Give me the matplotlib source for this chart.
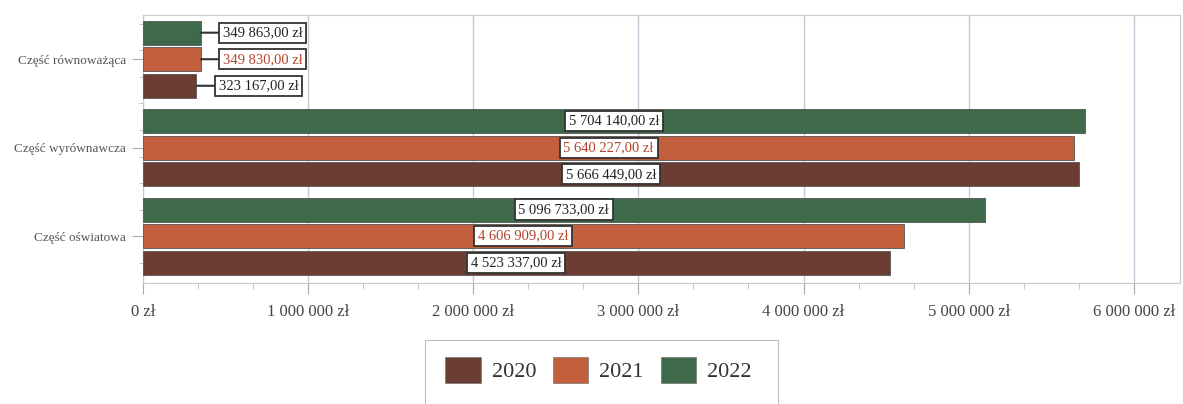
import matplotlib
matplotlib.use("Agg")
import matplotlib.pyplot as plt
from matplotlib.ticker import MultipleLocator, FuncFormatter
from matplotlib.patches import Patch, Rectangle
import numpy as np

categories = ["Część oświatowa", "Część wyrównawcza", "Część równoważąca"]
years = ["2020", "2021", "2022"]
values_2020 = [4523337.00, 5666449.00, 323167.00]
values_2021 = [4606909.00, 5640227.00, 349830.00]
values_2022 = [5096733.00, 5704140.00, 349863.00]
series = [values_2020, values_2021, values_2022]

colors = ["#6b3d33", "#c2603e", "#3e6a4a"]
label_colors = ["#222222", "#b3442a", "#222222"]

plt.rcParams['font.family'] = ['Liberation Serif', 'DejaVu Serif']

W, H = 1183, 404
fig = plt.figure(figsize=(W / 100, H / 100), dpi=100)
ax = fig.add_axes([143 / W, 1 - 283 / H, (1180 - 143) / W, (283 - 15) / H])

def fmt_pl(v, decimals=True):
    s = f"{int(round(v)):,}".replace(",", " ")
    return s + (",00 zł" if decimals else " zł")

pitch = 0.30
height = 0.27
y = np.arange(len(categories))
offsets = [-pitch, 0, pitch]
xmax = 6.28e6
for i, (vals, col) in enumerate(zip(series, colors)):
    bars = ax.barh(y + offsets[i], vals, height=height, color=col,
                   edgecolor="#555555", linewidth=0.6, zorder=3)
    for b, v in zip(bars, vals):
        yc = b.get_y() + b.get_height() / 2
        bbox = dict(boxstyle="square,pad=0.25", fc="white", ec="#333333", lw=1.3)
        if v < 1e6:
            ax.annotate(fmt_pl(v), xy=(v, yc), xytext=(v + 0.135e6, yc),
                        ha="left", va="center", fontsize=10.5, color=label_colors[i],
                        bbox=bbox, zorder=5,
                        arrowprops=dict(arrowstyle="-", color="#333333", lw=1.5,
                                        shrinkA=0, shrinkB=0))
        else:
            ax.text(v / 2, yc, fmt_pl(v), ha="center", va="center", fontsize=10.5,
                    color=label_colors[i], bbox=bbox, zorder=5)

ax.set_xlim(0, xmax)
ax.set_ylim(-0.53, 2.5)
ax.xaxis.set_major_locator(MultipleLocator(1e6))
ax.xaxis.set_minor_locator(MultipleLocator(1e6 / 3))
ax.xaxis.set_major_formatter(FuncFormatter(lambda v, p: fmt_pl(v, False)))
ax.set_yticks(y)
ax.set_yticklabels(categories)
ax.yaxis.set_minor_locator(MultipleLocator(pitch))
ax.tick_params(axis="x", which="major", length=8, color="#aaaaaa", labelsize=12,
               labelcolor="#444444", pad=7)
ax.tick_params(axis="x", which="minor", length=4, color="#bbbbbb")
ax.tick_params(axis="y", which="major", length=8, color="#aaaaaa", labelsize=9.5,
               labelcolor="#555555", pad=4)
ax.tick_params(axis="y", which="minor", length=3, color="#bbbbbb")
ax.grid(axis="x", which="major", color="#c8c8d8", lw=1.0, zorder=0)
for s in ax.spines.values():
    s.set_color("#c8c8d0")
    s.set_linewidth(0.8)

# legend frame drawn manually (extends past the bottom edge)
fig.patches.append(Rectangle((425 / W, -0.05), (778 - 425) / W, 0.05 + (404 - 340) / H,
                             transform=fig.transFigure, fill=False,
                             ec="#bbbbbb", lw=0.8))
handles = [Patch(facecolor=c, edgecolor="#777777", lw=0.5) for c in colors]
leg = fig.legend(handles, years, loc="center left",
                 bbox_to_anchor=(445 / W, 1 - 370 / H),
                 ncol=3, fontsize=16, frameon=False,
                 handlelength=1.6, handleheight=1.4, handletextpad=0.5,
                 columnspacing=0.75, borderpad=0, borderaxespad=0)
for t in leg.get_texts():
    t.set_color("#333333")

fig.savefig("out.png", dpi=100)
